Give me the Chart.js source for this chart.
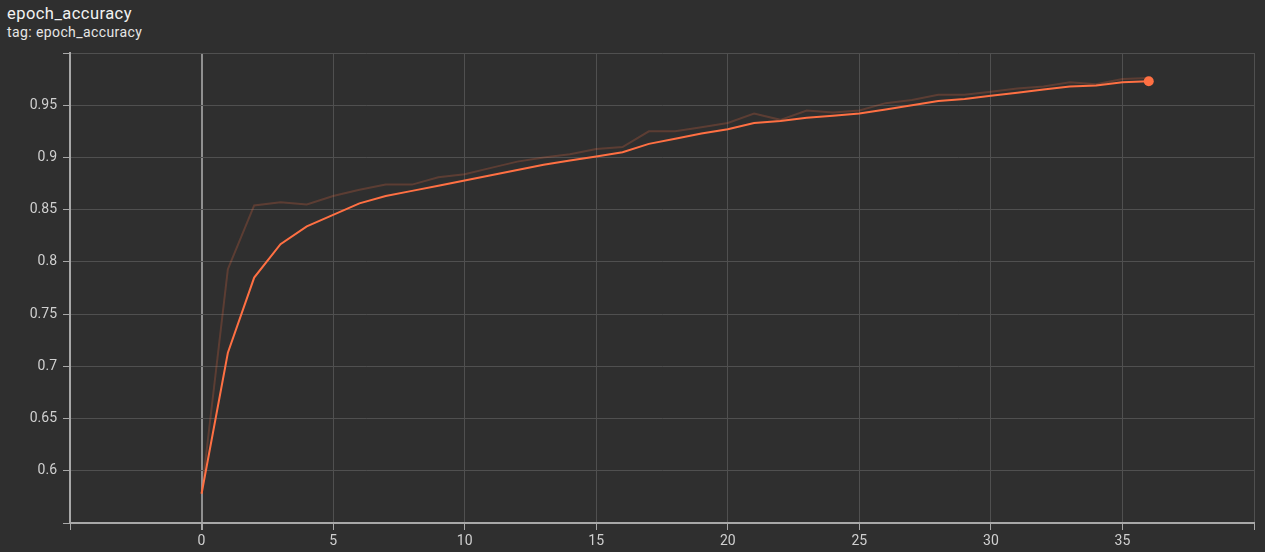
<!DOCTYPE html>
<html>
<head>
<meta charset="utf-8">
<script src="https://cdn.jsdelivr.net/npm/chart.js@4"></script>
<style>
    body { margin: 0; background: #2f2f2f; width: 1265px; height: 552px; overflow: hidden; font-family: Roboto, sans-serif; }
    #title { position: absolute; left: 7px; top: 4px; color: #f2f2f2; font-size: 16.5px; line-height: 20px; letter-spacing: 0.45px; }
    #subtitle { position: absolute; left: 7px; top: 23.5px; color: #e6e6e6; font-size: 14px; line-height: 16px; letter-spacing: 0.4px; }
    #wrap { position: absolute; left: 0; top: 0; }
</style>
</head>
<body>
<div id="title">epoch_accuracy</div>
<div id="subtitle">tag: epoch_accuracy</div>
<div id="wrap"><canvas id="accChart" width="1265" height="552"></canvas></div>
<script>
const epochs = [0,1,2,3,4,5,6,7,8,9,10,11,12,13,14,15,16,17,18,19,20,21,22,23,24,25,26,27,28,29,30,31,32,33,34,35,36];

const smoothedAcc = [0.578,0.713,0.785,0.817,0.834,0.845,0.856,0.863,0.868,0.873,0.878,0.883,0.888,0.893,0.897,0.901,0.905,0.913,0.918,0.923,0.927,0.933,0.935,0.938,0.940,0.942,0.946,0.950,0.954,0.956,0.959,0.962,0.965,0.968,0.969,0.972,0.973];

const rawAcc = [0.578,0.793,0.854,0.857,0.855,0.863,0.869,0.874,0.874,0.881,0.884,0.890,0.896,0.900,0.903,0.908,0.910,0.925,0.925,0.929,0.933,0.942,0.936,0.945,0.943,0.945,0.952,0.955,0.960,0.960,0.963,0.966,0.968,0.972,0.970,0.975,0.976];

const xTicks = [-5,0,5,10,15,20,25,30,35,40];
const yTicks = [0.55,0.6,0.65,0.7,0.75,0.8,0.85,0.9,0.95,1.0];

const smoothedPts = epochs.map((e, i) => ({ x: e, y: smoothedAcc[i] }));
const rawPts = epochs.map((e, i) => ({ x: e, y: rawAcc[i] }));

const ctx = document.getElementById('accChart').getContext('2d');
const chart = new Chart(ctx, {
    type: 'line',
    data: {
        datasets: [
            {
                label: 'smoothed',
                data: smoothedPts,
                borderColor: '#ff7043',
                backgroundColor: '#ff7043',
                borderWidth: 2,
                tension: 0,
                pointRadius: c => c.dataIndex === epochs.length - 1 ? 5 : 0,
                pointBorderWidth: 0
            },
            {
                label: 'raw',
                data: rawPts,
                borderColor: 'rgba(255,112,67,0.22)',
                borderWidth: 2,
                tension: 0,
                pointRadius: 0
            }
        ]
    },
    options: {
        responsive: false,
        animation: false,
        layout: { padding: { top: 53, right: 11, left: 0, bottom: 0 } },
        plugins: { legend: { display: false }, tooltip: { enabled: false } },
        scales: {
            x: {
                type: 'linear',
                min: -5,
                max: 40,
                afterBuildTicks: s => { s.ticks = xTicks.map(v => ({ value: v })); },
                afterFit: s => { s.height = 29; },
                ticks: {
                    color: '#d0d0d0',
                    font: { family: 'Roboto', size: 14 },
                    padding: 3,
                    maxRotation: 0,
                    autoSkip: false,
                    callback: v => (v === -5 || v === 40) ? '' : v
                },
                grid: {
                    color: c => c.tick && c.tick.value === 0 ? '#909090' : '#505050',
                    lineWidth: c => c.tick && c.tick.value === 0 ? 2 : 1,
                    tickColor: '#a8a8a8',
                    tickLength: 7
                },
                border: { color: '#a8a8a8', width: 2 }
            },
            y: {
                min: 0.55,
                max: 1.0,
                afterBuildTicks: s => { s.ticks = yTicks.map(v => ({ value: v })); },
                afterFit: s => { s.width = 70; },
                ticks: {
                    color: '#d0d0d0',
                    font: { family: 'Roboto', size: 14 },
                    padding: 6,
                    autoSkip: false,
                    callback: v => (Math.abs(v - 0.55) < 1e-6 || Math.abs(v - 1) < 1e-6) ? '' : String(+v.toFixed(2))
                },
                grid: {
                    color: '#505050',
                    lineWidth: 1,
                    tickColor: '#a8a8a8',
                    tickLength: 7
                },
                border: { color: '#a8a8a8', width: 2 }
            }
        }
    }
});
</script>
</body>
</html>
